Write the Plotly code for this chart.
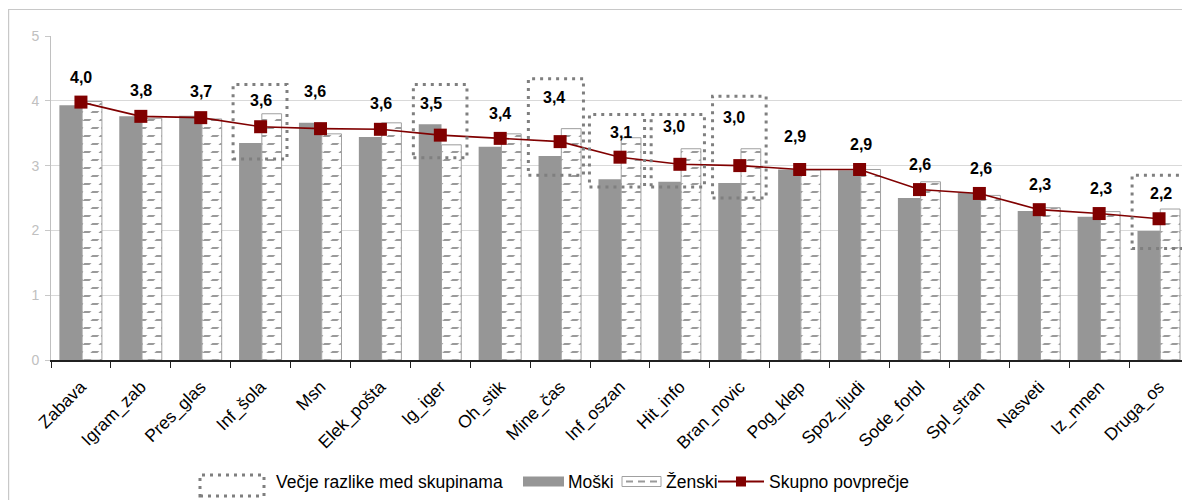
import plotly.graph_objects as go

# ---- data ----
categories = ["Zabava", "Igram_zab", "Pres_glas", "Inf_šola", "Msn", "Elek_pošta",
              "Ig_iger", "Oh_stik", "Mine_čas", "Inf_oszan", "Hit_info", "Bran_novic",
              "Pog_klep", "Spoz_ljudi", "Sode_forbl", "Spl_stran", "Nasveti", "Iz_mnen",
              "Druga_os"]
moski = [3.93, 3.76, 3.77, 3.35, 3.66, 3.44, 3.64, 3.29, 3.15, 2.79, 2.75, 2.73,
         2.94, 2.93, 2.50, 2.58, 2.30, 2.21, 1.99]
zenski = [3.99, 3.73, 3.72, 3.80, 3.49, 3.66, 3.32, 3.49, 3.57, 3.43, 3.26, 3.26,
          2.93, 2.94, 2.75, 2.54, 2.35, 2.29, 2.33]
skupno = [3.98, 3.76, 3.74, 3.60, 3.57, 3.56, 3.47, 3.42, 3.37, 3.13, 3.02, 3.00,
          2.94, 2.94, 2.63, 2.57, 2.32, 2.26, 2.18]
y_ticks = [0, 1, 2, 3, 4, 5]

# categories with larger group differences (dotted boxes)
box_cats = ["Inf_šola", "Ig_iger", "Mine_čas", "Inf_oszan", "Hit_info", "Bran_novic", "Druga_os"]

# ---- layout-only settings (positions / styles) ----
box_left = [-0.46, -0.45, -0.53, -0.51, -0.48, -0.455, -0.45]
box_right = [0.44, 0.445, 0.39, 0.41, 0.41, 0.44, 0.465]
box_top = [4.25, 4.25, 4.34, 3.79, 3.79, 4.07, 2.85]
box_bottom = [3.10, 3.12, 2.85, 2.67, 2.67, 2.50, 1.72]
label_yshift = [25, 26, 26, 26, 37, 26, 32, 25, 44, 25, 38, 48, 33, 25, 25, 25, 25, 25, 25]
label_xshift = [0, 0, 0, 0, -6, 1, -9, 0, -6, 1, -6, -6, -5, 1, 1, 2, 1, 2, 2]

FONT = "Liberation Sans, Arial, sans-serif"
GRAY = "#969696"
DASHGRAY = "#9a9a9a"
RED = "#800000"
DOT = "#7f7f7f"

PAGE_OFF = 8  # default body margin of the html page
W, H = 1182, 492
ML, MR, MT, MB = 43, 1, 28, 140
PW, PH = W - ML - MR, H - MT - MB
LEG_FONT = 17.5


def px_x(px):
    return (px - PAGE_OFF - ML) / PW


def px_y(py):
    return (H - MB - (py - PAGE_OFF)) / PH


fig = go.Figure()

# Moški bars
fig.add_trace(go.Bar(x=categories, y=moski, name="Moški",
                     marker=dict(color=GRAY, line=dict(width=0)),
                     offset=-0.36, width=0.38, showlegend=False, hoverinfo="skip"))
# Ženski bars: white with horizontal lines
fig.add_trace(go.Bar(x=categories, y=zenski, name="Ženski",
                     marker=dict(color="white", line=dict(width=0),
                                 pattern=dict(shape="-", fgcolor=DASHGRAY, bgcolor="white",
                                              size=8, solidity=0.25, fillmode="replace")),
                     offset=0.02, width=0.33, showlegend=False, hoverinfo="skip"))
# chopper to turn the lines into staggered dashes
fig.add_trace(go.Bar(x=categories, y=zenski, name="ch",
                     marker=dict(color="rgba(0,0,0,0)", line=dict(width=0),
                                 pattern=dict(shape="/", fgcolor="white", bgcolor="rgba(0,0,0,0)",
                                              size=11.31, solidity=0.55, fillmode="replace")),
                     offset=0.03, width=0.31, showlegend=False, hoverinfo="skip"))
# Ženski outline
fig.add_trace(go.Bar(x=categories, y=zenski, name="Ženski outline",
                     marker=dict(color="rgba(0,0,0,0)", line=dict(width=1, color="#a0a0a0")),
                     offset=0.02, width=0.33, showlegend=False, hoverinfo="skip"))

# average line
fig.add_trace(go.Scatter(x=categories, y=skupno, mode="lines+markers", name="Skupno povprečje",
                         line=dict(color=RED, width=1.6),
                         marker=dict(symbol="square", size=13, color=RED),
                         showlegend=False, hoverinfo="skip"))

shapes = []
annotations = []

# dotted boxes
for c, l, r, t, b in zip(box_cats, box_left, box_right, box_top, box_bottom):
    i = categories.index(c)
    shapes.append(dict(type="rect", xref="x", yref="y", x0=i + l, x1=i + r, y0=b, y1=t,
                       line=dict(color=DOT, width=3, dash="3px,5px"), layer="above"))

# data labels
for i, (c, v) in enumerate(zip(categories, skupno)):
    annotations.append(dict(x=c, y=v, xref="x", yref="y",
                            text="<b>" + f"{v:.1f}".replace(".", ",") + "</b>",
                            showarrow=False, yanchor="middle", xanchor="center",
                            yshift=label_yshift[i], xshift=label_xshift[i],
                            font=dict(family=FONT, size=16, color="black")))

# outer chart border (only left and top visible)
shapes.append(dict(type="rect", xref="paper", yref="paper",
                   x0=px_x(8.6), x1=px_x(1250), y0=px_y(560), y1=px_y(9.5),
                   line=dict(color="#c8c8c8", width=1.2), layer="below"))

# ---- custom legend ----
LY = 481.5
shapes.append(dict(type="rect", xref="paper", yref="paper",
                   x0=px_x(200), x1=px_x(264), y0=px_y(496), y1=px_y(475),
                   line=dict(color=DOT, width=3, dash="3px,5px")))
annotations.append(dict(x=px_x(274), y=px_y(LY), xref="paper", yref="paper",
                        text="Večje razlike med skupinama", showarrow=False,
                        xanchor="left", yanchor="middle",
                        font=dict(family=FONT, size=LEG_FONT, color="black")))
shapes.append(dict(type="rect", xref="paper", yref="paper",
                   x0=px_x(523), x1=px_x(564), y0=px_y(486.5), y1=px_y(476.5),
                   fillcolor=GRAY, line=dict(width=0)))
annotations.append(dict(x=px_x(566), y=px_y(LY), xref="paper", yref="paper",
                        text="Moški", showarrow=False, xanchor="left", yanchor="middle",
                        font=dict(family=FONT, size=LEG_FONT, color="black")))
shapes.append(dict(type="rect", xref="paper", yref="paper",
                   x0=px_x(622), x1=px_x(661), y0=px_y(486.5), y1=px_y(476.5),
                   fillcolor="white", line=dict(width=1, color="#a0a0a0")))
shapes.append(dict(type="line", xref="paper", yref="paper",
                   x0=px_x(626), x1=px_x(657), y0=px_y(481.5), y1=px_y(481.5),
                   line=dict(width=2, color=DASHGRAY, dash="7px,5px")))
annotations.append(dict(x=px_x(664), y=px_y(LY), xref="paper", yref="paper",
                        text="Ženski", showarrow=False, xanchor="left", yanchor="middle",
                        font=dict(family=FONT, size=LEG_FONT, color="black")))
shapes.append(dict(type="line", xref="paper", yref="paper",
                   x0=px_x(718), x1=px_x(764), y0=px_y(481.5), y1=px_y(481.5),
                   line=dict(width=2, color=RED)))
shapes.append(dict(type="rect", xref="paper", yref="paper",
                   x0=px_x(736), x1=px_x(746), y0=px_y(486.5), y1=px_y(476.5),
                   fillcolor=RED, line=dict(width=0)))
annotations.append(dict(x=px_x(767), y=px_y(LY), xref="paper", yref="paper",
                        text="Skupno povprečje", showarrow=False, xanchor="left", yanchor="middle",
                        font=dict(family=FONT, size=LEG_FONT, color="black")))

fig.update_layout(
    width=W, height=H, autosize=False,
    margin=dict(l=ML, r=MR, t=MT, b=MB, pad=0),
    paper_bgcolor="white", plot_bgcolor="white",
    barmode="overlay",
    shapes=shapes, annotations=annotations,
    font=dict(family=FONT),
    xaxis=dict(type="category", categoryorder="array", categoryarray=categories,
               range=[-0.5, len(categories) - 0.5],
               showline=True, linecolor="#202020", linewidth=1.5,
               ticks="outside", tickson="boundaries", ticklen=6, tickcolor="#202020",
               tickwidth=1.2, tickangle=-45, showgrid=False, ticklabelstandoff=8,
               tickfont=dict(family=FONT, size=17.5, color="black")),
    yaxis=dict(range=[0, 5], tickvals=y_ticks, ticktext=[str(t) for t in y_ticks],
               showgrid=True, gridcolor="#d9d9d9", gridwidth=1, zeroline=False,
               showline=True, linecolor="#c0c0c0", linewidth=1,
               ticks="outside", ticklen=5, tickcolor="#c8c8c8", ticklabelstandoff=3,
               tickfont=dict(family=FONT, size=14, color="#c0c0c0")),
)

fig.write_html("out.html")
